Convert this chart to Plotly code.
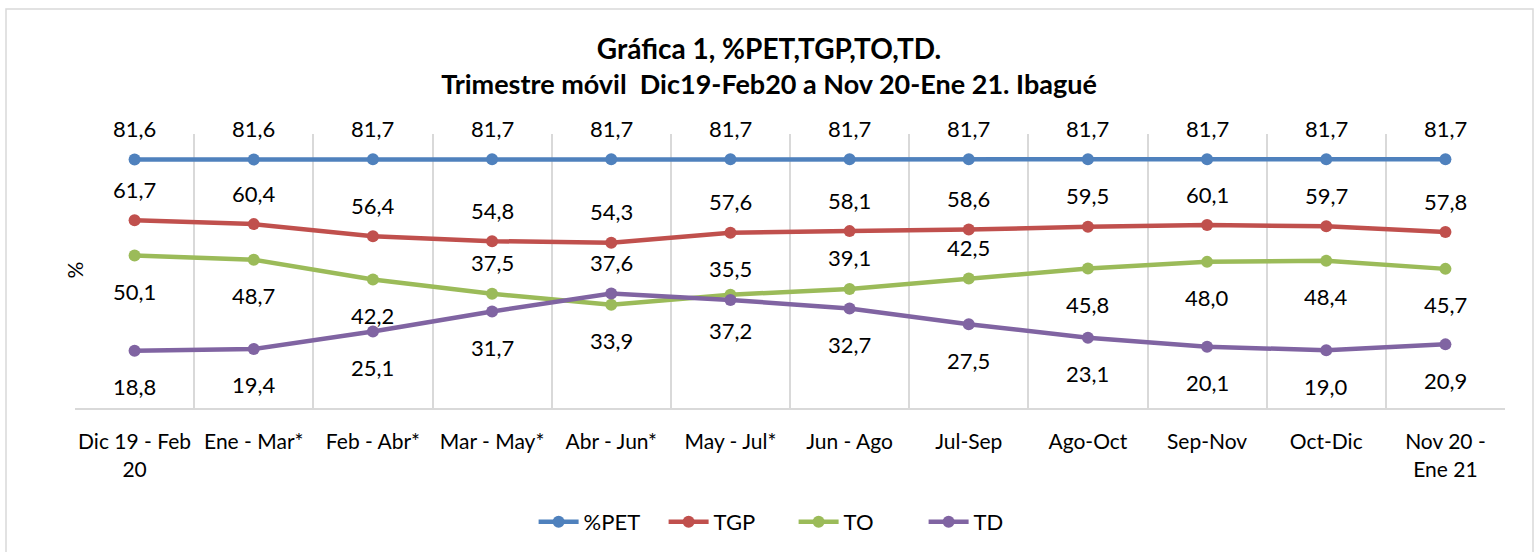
import plotly.graph_objects as go

# Trimestres móviles
periodos = ["Dic 19 - Feb 20", "Ene - Mar*", "Feb - Abr*", "Mar - May*", "Abr - Jun*", "May - Jul*",
            "Jun - Ago", "Jul-Sep", "Ago-Oct", "Sep-Nov", "Oct-Dic", "Nov 20 - Ene 21"]
etiquetas_x = ["Dic 19 - Feb<br>20", "Ene - Mar*", "Feb - Abr*", "Mar - May*", "Abr - Jun*", "May - Jul*",
               "Jun - Ago", "Jul-Sep", "Ago-Oct", "Sep-Nov", "Oct-Dic", "Nov 20 -<br>Ene 21"]

pet = [81.6, 81.6, 81.7, 81.7, 81.7, 81.7, 81.7, 81.7, 81.7, 81.7, 81.7, 81.7]
tgp = [61.7, 60.4, 56.4, 54.8, 54.3, 57.6, 58.1, 58.6, 59.5, 60.1, 59.7, 57.8]
to = [50.1, 48.7, 42.2, 37.5, 33.9, 37.2, 39.1, 42.5, 45.8, 48.0, 48.4, 45.7]
td = [18.8, 19.4, 25.1, 31.7, 37.6, 35.5, 32.7, 27.5, 23.1, 20.1, 19.0, 20.9]

# donde va cada etiqueta de dato (arriba / abajo del punto)
lado_to = ["b", "b", "b", "a", "b", "b", "a", "a", "b", "b", "b", "b"]
lado_td = ["b", "b", "b", "b", "a", "a", "b", "b", "b", "b", "b", "b"]

series = [
    ("%PET", pet, "#4F81BD", ["a"] * 12),
    ("TGP", tgp, "#C0504D", ["a"] * 12),
    ("TO", to, "#9BBB59", lado_to),
    ("TD", td, "#8064A2", lado_td),
]

FUENTE = "Lato"

fig = go.Figure()
anotaciones = []
for nombre, valores, color, lados in series:
    fig.add_trace(go.Scatter(
        x=periodos, y=valores, name=nombre, mode="lines+markers",
        line=dict(color=color, width=4.5),
        marker=dict(color=color, size=12),
    ))
    for p, v, lado in zip(periodos, valores, lados):
        anotaciones.append(dict(
            x=p, y=v, xref="x", yref="y", showarrow=False,
            text=f"{v:.1f}".replace(".", ","),
            yshift=31 if lado == "a" else -36,
            font=dict(family=FUENTE, size=22, color="#000000"),
        ))

# eje y: solo el titulo "%"
anotaciones.append(dict(
    x=-0.0105, y=0.504, xref="paper", yref="paper", text="%", textangle=-90,
    showarrow=False, font=dict(family=FUENTE, size=21, color="#000000"),
))

fig.update_layout(
    width=1538, height=552,
    margin=dict(l=75, r=33, t=134, b=144, autoexpand=False),
    paper_bgcolor="white", plot_bgcolor="white",
    title=dict(
        text="<b><span style='font-size:28px'>Gráfica 1, %PET,TGP,TO,TD.</span><br>"
             "Trimestre móvil  Dic19-Feb20 a Nov 20-Ene 21. Ibagué</b>",
        x=0.5, xref="container", xanchor="center",
        y=1 - 59 / 552, yref="container", yanchor="top",
        font=dict(family=FUENTE, size=27, color="#000000"),
    ),
    showlegend=True,
    legend=dict(
        orientation="h", x=0.516, xref="container", xanchor="center",
        y=1 - 522 / 552, yref="container", yanchor="middle",
        font=dict(family=FUENTE, size=22, color="#000000"),
        itemwidth=40, entrywidth=75, entrywidthmode="pixels",
    ),
    annotations=anotaciones,
    shapes=[dict(
        type="rect", xref="paper", yref="paper",
        x0=(6 - 75) / 1430, x1=(1533 - 75) / 1430,
        y0=(408 - 570) / 274, y1=(408 - 9) / 274,
        line=dict(color="#D9D9D9", width=1.5), layer="below",
    )],
)

fig.update_xaxes(
    type="category", range=[-0.5, 11.5],
    tickmode="array", tickvals=periodos, ticktext=etiquetas_x, tickangle=0,
    tickson="boundaries", showgrid=True, gridcolor="#D9D9D9", gridwidth=1.5,
    showline=True, linecolor="#D9D9D9", linewidth=2,
    ticks="", ticklabelstandoff=14,
    tickfont=dict(family=FUENTE, size=21, color="#000000"),
    automargin=False, fixedrange=True,
)
fig.update_yaxes(
    range=[0, 90], showgrid=False, showticklabels=False, zeroline=False,
    showline=False, automargin=False, fixedrange=True,
)

# sin el margen por defecto del navegador
fig.write_html("out.html", config={"displayModeBar": False},
               post_script="document.body.style.margin='0';")
